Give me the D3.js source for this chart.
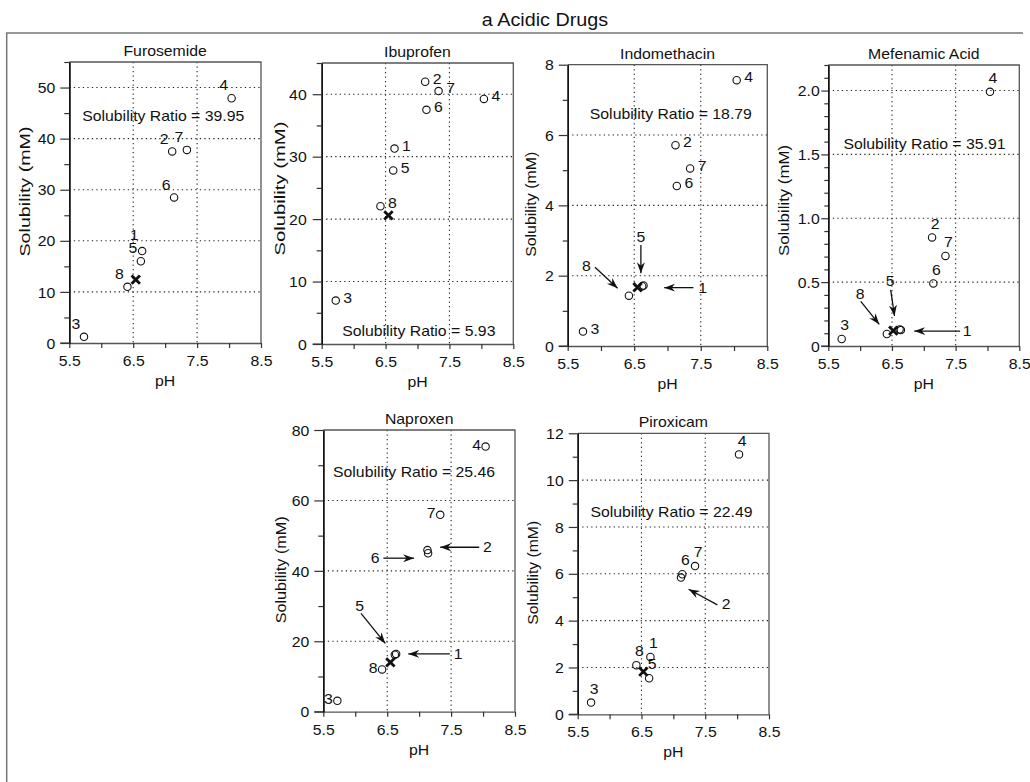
<!DOCTYPE html>
<html>
<head>
<meta charset="utf-8">
<script src="https://cdn.jsdelivr.net/npm/d3@7"></script>
<style>
  body { margin: 0; background: #fff; }
  svg { display: block; font-family: "Liberation Sans", Arial, sans-serif; }
</style>
</head>
<body>
<svg id="chart" width="1030" height="782"></svg>
<script>
// ---------------- DATA ----------------
const chartTitle = "a Acidic Drugs";
const drugs = ["Furosemide", "Ibuprofen", "Indomethacin", "Mefenamic Acid", "Naproxen", "Piroxicam"];
const sampleIds = ["1", "2", "3", "4", "5", "6", "7", "8"];

const phFurosemide   = [6.64, 7.11, 5.73, 8.04, 6.62, 7.14, 7.34, 6.41];
const solFurosemide  = [18.0, 37.5, 1.2, 47.9, 16.0, 28.5, 37.8, 11.0];
const phIbuprofen    = [6.64, 7.12, 5.72, 8.04, 6.62, 7.14, 7.33, 6.42];
const solIbuprofen   = [31.3, 42.0, 6.96, 39.25, 27.8, 37.5, 40.5, 22.06];
const phIndomethacin = [6.64, 7.12, 5.73, 8.04, 6.62, 7.14, 7.34, 6.42];
const solIndomethacin= [1.72, 5.71, 0.41, 7.56, 1.70, 4.55, 5.05, 1.43];
const phMefenamic    = [6.64, 7.13, 5.71, 8.04, 6.62, 7.15, 7.34, 6.42];
const solMefenamic   = [0.125, 0.85, 0.055, 1.99, 0.13, 0.49, 0.705, 0.094];
const phNaproxen     = [6.64, 7.13, 5.72, 8.04, 6.62, 7.14, 7.33, 6.42];
const solNaproxen    = [16.4, 45.9, 3.1, 75.3, 16.2, 45.0, 55.9, 12.0];
const phPiroxicam    = [6.64, 7.12, 5.71, 8.03, 6.62, 7.14, 7.34, 6.42];
const solPiroxicam   = [2.45, 5.84, 0.5, 11.1, 1.54, 5.98, 6.33, 2.1];

// mean (cross marker) pH and solubility per drug
const meanPh  = [6.54, 6.545, 6.55, 6.52, 6.55, 6.53];
const meanSol = [12.4, 20.6, 1.67, 0.12, 14.0, 1.82];

const solubilityRatios = [39.95, 5.93, 18.79, 35.91, 25.46, 22.49];

// axes
const xTicks = [5.5, 6.0, 6.5, 7.0, 7.5, 8.0, 8.5];
const xTickLabels = ["5.5", "", "6.5", "", "7.5", "", "8.5"];
const yMax       = [55, 45, 8, 2.2, 80, 12];
const yMajorStep = [10, 10, 2, 0.5, 20, 2];
const yMinorStep = [5, 5, 1, 0.1, 10, 1];

// ---------------- ANNOTATIONS (data coordinates) ----------------
// ratio text centre [pH, solubility]
const ratioPos = [[6.97, 44.5], [7.02, 2.1], [7.05, 6.6], [7.01, 1.58], [6.92, 68.0], [6.97, 8.65]];
// number-label placement style per drug
const labelStyle = ["upLeft", "right", "right", "up", "left", "up"];
// arrows: [drugIndex, sampleId, labelPH, labelSol, fromPH, fromSol, toPH, toSol]
const arrows = [
  [2, "5", 6.60, 3.11, 6.60, 2.87, 6.60, 2.07],
  [2, "8", 5.78, 2.27, 5.91, 2.24, 6.25, 1.64],
  [2, "1", 7.53, 1.66, 7.39, 1.66, 6.95, 1.66],
  [3, "5", 6.47, 0.51, 6.48, 0.44, 6.54, 0.235],
  [3, "8", 6.00, 0.41, 6.01, 0.35, 6.30, 0.17],
  [3, "1", 7.68, 0.117, 7.57, 0.117, 6.85, 0.117],
  [4, "6", 6.31, 43.6, 6.44, 43.6, 6.92, 43.6],
  [4, "2", 8.07, 46.7, 7.94, 46.7, 7.33, 46.7],
  [4, "5", 6.07, 30.0, 6.09, 27.9, 6.47, 19.4],
  [4, "1", 7.61, 16.4, 7.48, 16.4, 6.83, 16.4],
  [5, "2", 7.83, 4.70, 7.69, 4.67, 7.24, 5.34]
];

const phData  = [phFurosemide, phIbuprofen, phIndomethacin, phMefenamic, phNaproxen, phPiroxicam];
const solData = [solFurosemide, solIbuprofen, solIndomethacin, solMefenamic, solNaproxen, solPiroxicam];

// ---------------- LAYOUT ----------------
const panels = [
  {x0: 69.3,  x1: 261,    y0: 62,    y1: 343,   tick: 9, minor: 5, gap: 14,  yl: 45, ylLen: 130, ylShift: -11},
  {x0: 321.7, x1: 513.3,  y0: 63,    y1: 344,   tick: 9, minor: 5, gap: 15,  yl: 42, ylLen: 134, ylShift: -15},
  {x0: 567.7, x1: 767.3,  y0: 64.7,  y1: 346,   tick: 9, minor: 5, gap: 14,  yl: 37, ylLen: 105, ylShift: -1},
  {x0: 828.3, x1: 1019.3, y0: 65,    y1: 346,   tick: 7, minor: 4, gap: 8.5, yl: 45, ylLen: 111, ylShift: -5},
  {x0: 323.3, x1: 515,    y0: 430,   y1: 711.7, tick: 9, minor: 5, gap: 14,  yl: 43, ylLen: 107, ylShift: -1},
  {x0: 577.7, x1: 769,    y0: 433.3, y1: 714.3, tick: 9, minor: 5, gap: 14,  yl: 45, ylLen: 104, ylShift: -1}
];
const SX = 1.13;          // horizontal stretch of text
const FS = 14;            // base font size
const labelOffsets = {upLeft: [-8, -13], right: [12, -3], up: [3, -14], left: [-9, -2]};
// per-label extra nudges [drugIndex, sampleId, dx, dy]
const labelNudges = [[0, "1", 0, -3]];

const svg = d3.select("#chart");
const defs = svg.append("defs");
defs.append("marker")
  .attr("id", "ah").attr("markerUnits", "userSpaceOnUse")
  .attr("viewBox", "-11 -5 12 10").attr("refX", 0).attr("refY", 0)
  .attr("markerWidth", 12).attr("markerHeight", 10).attr("orient", "auto")
  .append("path").attr("d", "M0,0 L-11,-4 L-7.5,0 L-11,4 Z").attr("fill", "#111");

function stext(g, x, y, str, size, anchor) {
  return g.append("text")
    .attr("transform", `translate(${x},${y}) scale(${SX},1)`)
    .attr("font-size", size)
    .attr("text-anchor", anchor || "middle")
    .attr("dominant-baseline", "central")
    .attr("fill", "#111")
    .text(str);
}

// outer frame (left + top)
svg.append("path").attr("d", "M6.7,782 L6.7,33 L1023,33")
  .attr("fill", "none").attr("stroke", "#777").attr("stroke-width", 1.5);

// main title
svg.append("text")
  .attr("transform", `translate(545,26) scale(${SX},1)`)
  .attr("font-size", 17.5).attr("text-anchor", "middle").attr("fill", "#111")
  .text(chartTitle);

drugs.forEach((name, i) => {
  const L = panels[i];
  const g = svg.append("g");
  const x = d3.scaleLinear().domain([5.5, 8.5]).range([L.x0, L.x1]);
  const y = d3.scaleLinear().domain([0, yMax[i]]).range([L.y1, L.y0]);

  const nMaj = Math.round(yMax[i] / yMajorStep[i]);
  const majors = d3.range(0, nMaj + 1).map(k => +(k * yMajorStep[i]).toFixed(4)).filter(v => v <= yMax[i] + 1e-9);
  const nMin = Math.round(yMax[i] / yMinorStep[i]);
  const minors = d3.range(0, nMin + 1).map(k => +(k * yMinorStep[i]).toFixed(4))
    .filter(v => !majors.some(m => Math.abs(m - v) < 1e-9));

  // grid
  const grid = g.append("g").attr("stroke", "#222").attr("stroke-width", 1.1).attr("stroke-dasharray", "1.3,3.2");
  [6.5, 7.5].forEach(v => grid.append("line").attr("x1", x(v)).attr("x2", x(v)).attr("y1", L.y0).attr("y2", L.y1));
  majors.filter(v => v > 0 && v < yMax[i] - 1e-9).forEach(v =>
    grid.append("line").attr("x1", L.x0).attr("x2", L.x1).attr("y1", y(v)).attr("y2", y(v)));

  // frame top/right
  g.append("path").attr("d", `M${L.x0},${L.y0} L${L.x1},${L.y0} L${L.x1},${L.y1}`)
    .attr("fill", "none").attr("stroke", "#555").attr("stroke-width", 1.3);

  // x axis
  const xAx = g.append("g").attr("transform", `translate(0,${L.y1})`)
    .call(d3.axisBottom(x).tickValues(xTicks).tickSize(5).tickSizeOuter(0)
      .tickFormat((d, k) => xTickLabels[k]));
  xAx.select(".domain").attr("stroke", "#555").attr("stroke-width", 1.3);
  xAx.selectAll(".tick line").attr("stroke", "#333").attr("stroke-width", 1.2);
  xAx.selectAll(".tick text").attr("y", null).attr("dy", null)
    .attr("dominant-baseline", "central")
    .attr("transform", `translate(0,18) scale(${SX},1)`)
    .attr("font-size", FS).attr("font-family", null).attr("fill", "#111");

  // extend x axis line left under y major tick at 0
  g.append("line").attr("x1", L.x0 - L.tick).attr("x2", L.x0).attr("y1", L.y1).attr("y2", L.y1)
    .attr("stroke", "#555").attr("stroke-width", 1.3);

  // y axis: minor ticks, then major ticks with labels
  const fmt = yMajorStep[i] < 1 ? (d => d === 0 ? "0" : d3.format(".1f")(d)) : d3.format("d");
  const yAxMin = g.append("g").attr("transform", `translate(${L.x0},0)`)
    .call(d3.axisLeft(y).tickValues(minors).tickSize(L.minor).tickSizeOuter(0).tickFormat(""));
  const yAx = g.append("g").attr("transform", `translate(${L.x0},0)`)
    .call(d3.axisLeft(y).tickValues(majors).tickSize(L.tick).tickSizeOuter(0).tickFormat(fmt));
  [yAx, yAxMin].forEach(a => {
    a.select(".domain").attr("stroke", "#111").attr("stroke-width", 1.4);
    a.selectAll(".tick line").attr("stroke", "#333").attr("stroke-width", 1.2);
  });
  yAx.selectAll(".tick text").attr("x", null).attr("dy", null)
    .attr("dominant-baseline", "central")
    .attr("transform", `translate(${-L.gap},0) scale(${SX},1)`)
    .attr("font-size", FS).attr("font-family", null).attr("fill", "#111");

  // titles
  stext(g, (L.x0 + L.x1) / 2, L.y0 - 11, name, FS);
  stext(g, (L.x0 + L.x1) / 2, L.y1 + 38, "pH", FS);
  g.append("text")
    .attr("transform", `translate(${L.x0 - L.yl},${(L.y0 + L.y1) / 2 + L.ylShift}) rotate(-90)`)
    .attr("font-size", 15.5).attr("text-anchor", "middle").attr("dominant-baseline", "central")
    .attr("textLength", L.ylLen).attr("lengthAdjust", "spacingAndGlyphs")
    .attr("fill", "#111").text("Solubility (mM)");

  // ratio text
  stext(g, x(ratioPos[i][0]), y(ratioPos[i][1]), "Solubility Ratio = " + solubilityRatios[i].toFixed(2), FS);

  // points
  const pts = sampleIds.map((id, k) => ({id, ph: phData[i][k], sol: solData[i][k]}));
  g.append("g").selectAll("circle").data(pts).join("circle")
    .attr("cx", d => x(d.ph)).attr("cy", d => y(d.sol)).attr("r", 3.7)
    .attr("fill", "none").attr("stroke", "#111").attr("stroke-width", 1.1);

  // cross marker
  const cx = x(meanPh[i]), cy = y(meanSol[i]), s = 4.2;
  g.append("path").attr("d", `M${cx - s},${cy - s}L${cx + s},${cy + s}M${cx - s},${cy + s}L${cx + s},${cy - s}`)
    .attr("stroke", "#111").attr("stroke-width", 2.8).attr("fill", "none");

  // number labels
  const arrowed = arrows.filter(a => a[0] === i);
  const off = labelOffsets[labelStyle[i]];
  pts.filter(d => !arrowed.some(a => a[1] === d.id)).forEach(d => {
    const n = labelNudges.find(q => q[0] === i && q[1] === d.id) || [0, "", 0, 0];
    stext(g, x(d.ph) + off[0] + n[2], y(d.sol) + off[1] + n[3], d.id, FS);
  });

  // arrows
  arrowed.forEach(a => {
    stext(g, x(a[2]), y(a[3]), a[1], FS);
    g.append("line").attr("x1", x(a[4])).attr("y1", y(a[5])).attr("x2", x(a[6])).attr("y2", y(a[7]))
      .attr("stroke", "#111").attr("stroke-width", 1.3).attr("marker-end", "url(#ah)");
  });
});
</script>
</body>
</html>
